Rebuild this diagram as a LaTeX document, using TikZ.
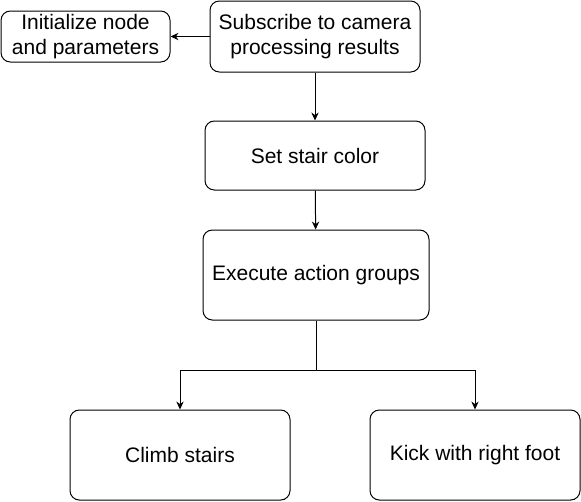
\documentclass[tikz,border=0pt]{standalone}
\usepackage{fontspec}
\setmainfont{Liberation Sans}
\usetikzlibrary{arrows.meta}
\begin{document}
\begin{tikzpicture}[>={Stealth[length=6pt,width=5.5pt]}, x=0.75pt, y=-0.75pt, line width=0.75pt,
  bloco/.style={draw, rectangle, rounded corners=7pt, align=center, inner sep=0pt,
    font=\fontsize{15.75}{18.75}\selectfont}]
\useasboundingbox (0,0) rectangle (581,501);
% Topo
\node[bloco, minimum width=126.75pt, minimum height=38.25pt] (init) at (85.5,36.5) {Initialize node\\and parameters};
\node[bloco, minimum width=157.5pt, minimum height=53.25pt] (sub) at (315,36.5) {Subscribe to camera\\processing results};
\node[bloco, minimum width=165pt, minimum height=51.75pt] (cor) at (315,155.5) {Set stair color};
\node[bloco, minimum width=169.5pt, minimum height=67.5pt] (exec) at (316,275) {Execute action groups};

% Acoes
\node[bloco, minimum width=165pt, minimum height=67.5pt] (climb) at (180,455) {Climb stairs};
\node[bloco, minimum width=157.5pt, minimum height=67.5pt] (kick) at (475,455) {Kick with right foot};
\coordinate (ramo) at (316,370);

% Conexoes
\draw[->] (sub) -- (init);
\draw[->] (sub) -- (cor);
\draw[->] (cor) -- (exec);
\draw (exec) -- (ramo);
\draw[->] (ramo) -| (climb);
\draw[->] (ramo) -| (kick);
\end{tikzpicture}
\end{document}
